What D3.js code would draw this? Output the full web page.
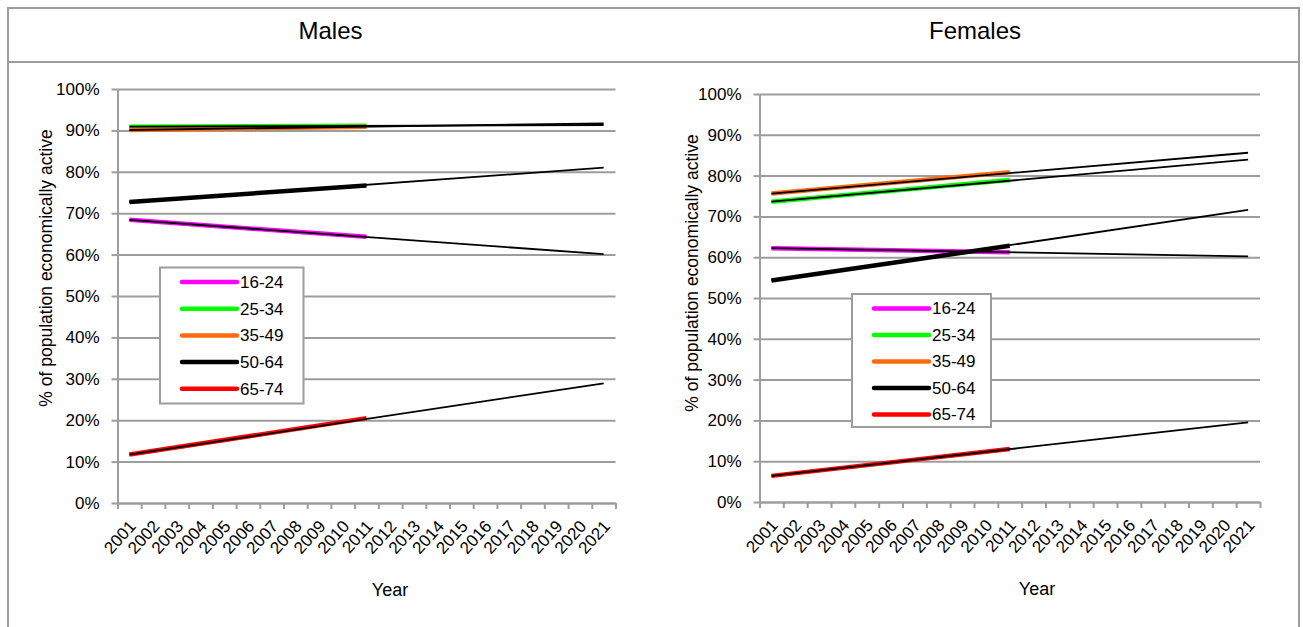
<!DOCTYPE html>
<html lang="en">
<head>
<meta charset="UTF-8">
<title>Economically active by age group</title>
<script src="https://d3js.org/d3.v7.min.js"></script>
<style>
  body { margin: 0; background: #fff; }
  svg { display: block; font-family: "Liberation Sans", Arial, sans-serif; }
</style>
</head>
<body>
<svg width="1303" height="627"></svg>
<script>
// categories
const years = ["2001", "2002", "2003", "2004", "2005", "2006", "2007", "2008", "2009", "2010",
               "2011", "2012", "2013", "2014", "2015", "2016", "2017", "2018", "2019", "2020", "2021"];
const ageGroups = ["16-24", "25-34", "35-49", "50-64", "65-74"];

// census values (2001, 2011) and the linear trend projected to 2021, in %
const censusYears = ["2001", "2011"];
const trendYears = ["2001", "2021"];

const males2001 = [68.4, 90.9, 90.1, 72.7, 11.7];
const males2011 = [64.3, 91.1, 90.9, 76.7, 20.5];
const malesTrend2021 = [60.1, 91.3, 91.7, 81.0, 28.9];

const females2001 = [62.2, 73.6, 75.6, 54.3, 6.4];
const females2011 = [61.2, 78.9, 80.8, 62.8, 13.0];
const femalesTrend2021 = [60.2, 83.9, 85.6, 71.6, 19.5];

const groupColours = ["#ff00ff", "#00ff00", "#ff6a10", "#000000", "#ff0000"];
const grey = "#9d9d9d";

const svg = d3.select("svg");
svg.append("rect").attr("width", 1303).attr("height", 627).attr("fill", "#fff");

// table frame round the two charts
const frame = svg.append("g").attr("stroke", grey).attr("stroke-width", 2);
frame.append("line").attr("x1", 7).attr("x2", 1300).attr("y1", 8).attr("y2", 8);
frame.append("line").attr("x1", 7).attr("x2", 1300).attr("y1", 62).attr("y2", 62);
frame.append("line").attr("x1", 8).attr("x2", 8).attr("y1", 7).attr("y2", 627);
frame.append("line").attr("x1", 1299).attr("x2", 1299).attr("y1", 7).attr("y2", 627);

function drawPanel(p) {
  const g = svg.append("g");

  g.append("text")
    .attr("x", p.titleX).attr("y", 39)
    .attr("text-anchor", "middle")
    .attr("font-size", 24)
    .text(p.title);

  const x = d3.scaleBand().domain(years).range([p.left, p.right]);
  const edges = d3.scaleLinear().domain([0, years.length]).range([p.left, p.right]);
  const y = d3.scaleLinear().domain([0, 1]).range([p.bottom, p.top]);
  const cx = d => x(d) + x.bandwidth() / 2;

  // gridlines
  g.append("g")
    .attr("transform", `translate(${p.left},0)`)
    .call(d3.axisLeft(y).ticks(10).tickSize(-(p.right - p.left)).tickFormat(""))
    .call(a => a.select(".domain").remove())
    .call(a => a.selectAll("line").attr("stroke", grey).attr("stroke-width", 2));

  // y axis
  g.append("g")
    .attr("transform", `translate(${p.left},0)`)
    .call(d3.axisLeft(y).ticks(10, "%").tickSize(6).tickSizeOuter(0).tickPadding(12))
    .call(a => a.select(".domain").attr("stroke", grey).attr("stroke-width", 2))
    .call(a => a.selectAll("line").attr("stroke", grey).attr("stroke-width", 2))
    .call(a => a.selectAll("text").attr("font-size", 17).attr("fill", "#000")
                 .attr("font-family", "Liberation Sans, Arial, sans-serif"));

  // x axis, tick marks between categories
  g.append("g")
    .attr("transform", `translate(0,${p.bottom})`)
    .call(d3.axisBottom(edges).tickValues(d3.range(years.length + 1)).tickFormat("")
            .tickSize(6).tickSizeOuter(0))
    .call(a => a.select(".domain").attr("stroke", grey).attr("stroke-width", 2))
    .call(a => a.selectAll("line").attr("stroke", grey).attr("stroke-width", 2));

  g.append("g").selectAll("text")
    .data(years)
    .join("text")
    .attr("transform", d => `translate(${cx(d) + 3},${p.bottom + 20}) rotate(-48)`)
    .attr("text-anchor", "end")
    .attr("dy", "0.35em")
    .attr("font-size", 17)
    .text(d => d);

  // axis titles
  g.append("text")
    .attr("transform", `translate(${p.yTitleX},${p.yTitleY}) rotate(-90)`)
    .attr("text-anchor", "middle")
    .attr("dy", "0.35em")
    .attr("font-size", 17.5)
    .text("% of population economically active");

  g.append("text")
    .attr("x", p.xTitleX).attr("y", p.xTitleY)
    .attr("text-anchor", "middle")
    .attr("font-size", 18)
    .text("Year");

  const line = d3.line()
    .x(d => cx(d.year))
    .y(d => y(d.value / 100));

  // census values, coloured
  g.append("g").selectAll("path")
    .data(ageGroups.map((grp, i) => censusYears.map((yr, k) => ({ year: yr, value: p.census[k][i] }))))
    .join("path")
    .attr("d", line)
    .attr("fill", "none")
    .attr("stroke", (d, i) => groupColours[i])
    .attr("stroke-width", 4.5);

  // linear trends, black
  g.append("g").selectAll("path")
    .data(ageGroups.map((grp, i) => trendYears.map((yr, k) => ({ year: yr, value: p.trend[k][i] }))))
    .join("path")
    .attr("d", line)
    .attr("fill", "none")
    .attr("stroke", "#000")
    .attr("stroke-width", 1.8);

  // legend
  const lg = g.append("g");
  lg.append("rect")
    .attr("x", p.legend.x).attr("y", p.legend.y)
    .attr("width", p.legend.w).attr("height", p.legend.h)
    .attr("fill", "#fff").attr("stroke", grey).attr("stroke-width", 2);
  const rows = lg.selectAll("g.row")
    .data(ageGroups)
    .join("g")
    .attr("class", "row")
    .attr("transform", (d, i) => `translate(${p.legend.x},${p.legend.y + 14.5 + i * p.legend.step})`);
  rows.append("line")
    .attr("x1", 22).attr("x2", 77)
    .attr("stroke", (d, i) => groupColours[i])
    .attr("stroke-width", 4.5)
    .attr("stroke-linecap", "round");
  rows.append("text")
    .attr("x", 80)
    .attr("dy", "0.35em")
    .attr("font-size", 17)
    .text(d => d);
}

drawPanel({
  title: "Males", titleX: 330.5,
  left: 117.5, right: 615.5, top: 89, bottom: 503,
  yTitleX: 46, yTitleY: 268, xTitleX: 390, xTitleY: 596,
  census: [males2001, males2011],
  trend: [males2001, malesTrend2021],
  legend: { x: 160, y: 267.5, w: 143.5, h: 136, step: 26.7 }
});

drawPanel({
  title: "Females", titleX: 975,
  left: 759.5, right: 1260, top: 94, bottom: 502,
  yTitleX: 692, yTitleY: 273, xTitleX: 1037, xTitleY: 595,
  census: [females2001, females2011],
  trend: [females2001, femalesTrend2021],
  legend: { x: 852, y: 294, w: 139, h: 133, step: 26.5 }
});
</script>
</body>
</html>
